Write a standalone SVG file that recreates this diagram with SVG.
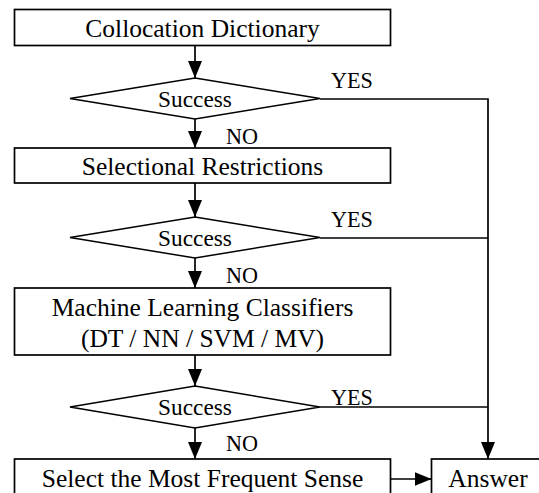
<svg xmlns="http://www.w3.org/2000/svg" width="539" height="493" viewBox="0 0 539 493">
  <defs>
    <marker id="arrow" markerUnits="userSpaceOnUse" markerWidth="17" markerHeight="14" refX="17" refY="7" orient="auto">
      <path d="M0,0 L17,7 L0,14 z" fill="#000"/>
    </marker>
    <style>
      .box { fill: #fff; stroke: #000; stroke-width: 1.7; }
      .dec { fill: #fff; stroke: #000; stroke-width: 1.5; }
      .edge { fill: none; stroke: #000; stroke-width: 1.7; }
      .lbl { font-family: "Liberation Serif", "Times New Roman", serif; font-size: 25.5px; fill: #000; text-anchor: middle; }
      .cond { font-family: "Liberation Serif", "Times New Roman", serif; font-size: 23.3px; fill: #000; text-anchor: middle; }
      .ans { font-family: "Liberation Serif", "Times New Roman", serif; font-size: 22.2px; fill: #000; }
    </style>
  </defs>

  <rect width="539" height="493" fill="#fff"/>

  <!-- connectors -->
  <g id="connectors">
    <line class="edge" x1="195" y1="45.5" x2="195" y2="78" marker-end="url(#arrow)"/>
    <line class="edge" x1="195" y1="119" x2="195" y2="148" marker-end="url(#arrow)"/>
    <line class="edge" x1="195" y1="183" x2="195" y2="217" marker-end="url(#arrow)"/>
    <line class="edge" x1="195" y1="258" x2="195" y2="288" marker-end="url(#arrow)"/>
    <line class="edge" x1="195" y1="355" x2="195" y2="386" marker-end="url(#arrow)"/>
    <line class="edge" x1="195" y1="428" x2="195" y2="459" marker-end="url(#arrow)"/>
    <path class="edge" d="M320,99 H488 V459" marker-end="url(#arrow)"/>
    <path class="edge" d="M320,238 H488"/>
    <path class="edge" d="M320,407 H488"/>
    <line class="edge" x1="390.5" y1="479" x2="431.5" y2="479" marker-end="url(#arrow)"/>
    <text class="ans" x="331" y="88">YES</text>
    <text class="ans" x="226" y="144">NO</text>
    <text class="ans" x="331" y="227">YES</text>
    <text class="ans" x="226" y="283">NO</text>
    <text class="ans" x="331" y="405">YES</text>
    <text class="ans" x="226" y="451">NO</text>
  </g>

  <g id="collocation">
    <rect class="box" x="14.5" y="9.5" width="376" height="36"/>
    <text class="lbl" x="202.5" y="37">Collocation Dictionary</text>
  </g>

  <g id="success1">
    <polygon class="dec" points="195,78 320,98.5 195,119 70,98.5"/>
    <text class="cond" x="195" y="106.5">Success</text>
  </g>

  <g id="selectional">
    <rect class="box" x="14.5" y="148" width="376" height="35"/>
    <text class="lbl" x="202.5" y="174.5">Selectional Restrictions</text>
  </g>

  <g id="success2">
    <polygon class="dec" points="195,217 320,237.5 195,258 70,237.5"/>
    <text class="cond" x="195" y="245.5">Success</text>
  </g>

  <g id="classifiers">
    <rect class="box" x="14.5" y="288" width="376" height="67"/>
    <text class="lbl" x="202.5" y="316">Machine Learning Classifiers</text>
    <text class="lbl" x="202.5" y="346.5">(DT / NN / SVM / MV)</text>
  </g>

  <g id="success3">
    <polygon class="dec" points="195,386 320,407 195,428 70,407"/>
    <text class="cond" x="195" y="415">Success</text>
  </g>

  <g id="most-frequent">
    <rect class="box" x="14.5" y="459" width="376" height="45"/>
    <text class="lbl" x="202.5" y="486.5">Select the Most Frequent Sense</text>
  </g>

  <g id="answer">
    <rect class="box" x="431.5" y="459" width="120" height="45"/>
    <text class="lbl" x="488" y="486.5">Answer</text>
  </g>
</svg>
